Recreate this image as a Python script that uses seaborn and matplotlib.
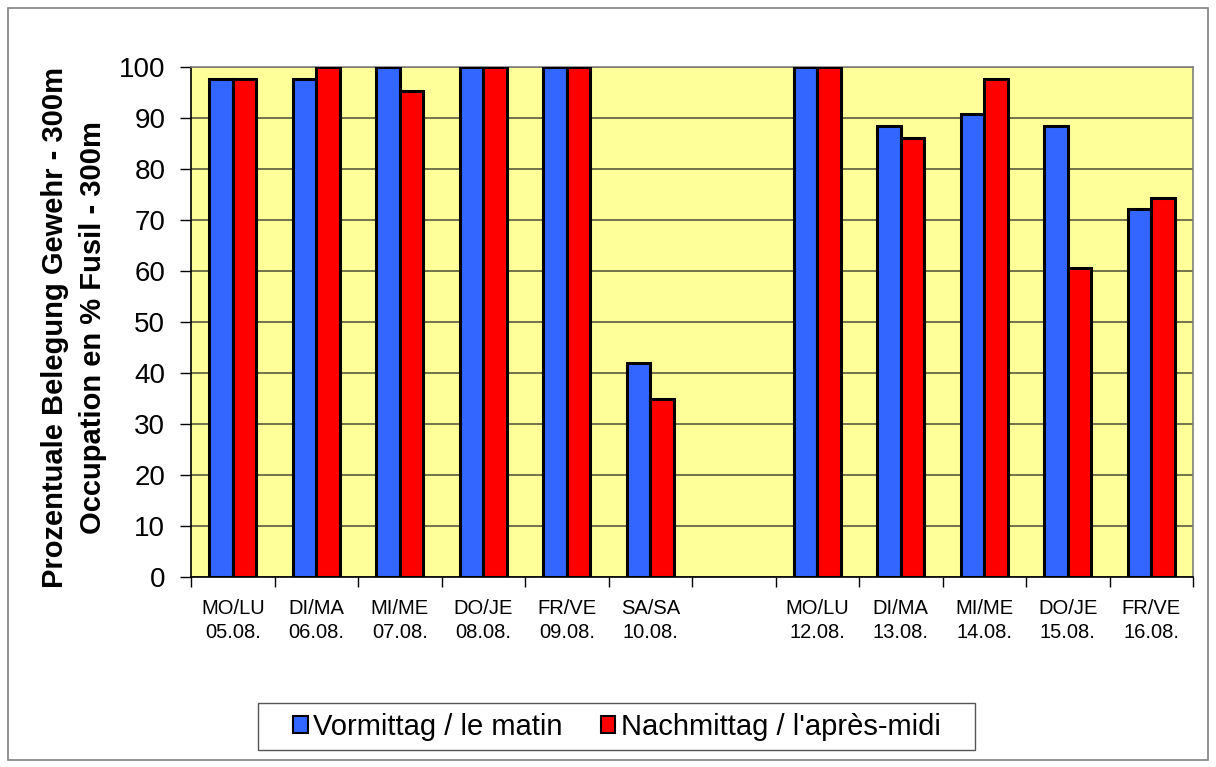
import pandas as pd
import numpy as np
import matplotlib
matplotlib.use('Agg')
import matplotlib.pyplot as plt
import matplotlib.patches as mpatches
import seaborn as sns

# chart data (values are shares of 43 slots)
days = ['MO/LU\n05.08.', 'DI/MA\n06.08.', 'MI/ME\n07.08.', 'DO/JE\n08.08.',
        'FR/VE\n09.08.', 'SA/SA\n10.08.', ' ',
        'MO/LU\n12.08.', 'DI/MA\n13.08.', 'MI/ME\n14.08.', 'DO/JE\n15.08.', 'FR/VE\n16.08.']
morning = [97.7, 97.7, 100, 100, 100, 41.9, np.nan, 100, 88.4, 90.7, 88.4, 72.1]
afternoon = [97.7, 100, 95.3, 100, 100, 34.9, np.nan, 100, 86.0, 97.7, 60.5, 74.4]
series = ['Vormittag / le matin', "Nachmittag / l'après-midi"]
colors = ['#3366FF', '#FF0000']

df = pd.DataFrame({
    'day': days * 2,
    'value': morning + afternoon,
    'series': [series[0]] * len(days) + [series[1]] * len(days),
})

sns.set_style('white')
plt.rcParams['font.family'] = ['Liberation Sans', 'DejaVu Sans']
plt.rcParams['text.color'] = 'black'
plt.rcParams['axes.labelcolor'] = 'black'
plt.rcParams['xtick.color'] = 'black'
plt.rcParams['ytick.color'] = 'black'

fig = plt.figure(figsize=(12.16, 7.67), dpi=100)
ax = fig.add_axes([191 / 1216, 1 - 577 / 767, (1193 - 191) / 1216, (577 - 67) / 767])
ax.set_facecolor('#FFFF99')

sns.barplot(data=df, x='day', y='value', hue='series', order=days, hue_order=series,
            palette=colors, width=0.56, edgecolor='black', linewidth=2.2,
            saturation=1, legend=False, ax=ax, zorder=3)

ax.set_ylim(0, 100)
ax.set_xlim(-0.5, len(days) - 0.5)
ax.set_yticks(range(0, 101, 10))
ax.yaxis.grid(True, color='#5a5a40', linewidth=1.2, zorder=0)
ax.set_axisbelow(True)
ax.tick_params(axis='y', labelsize=20, length=8, width=1, direction='out',
               left=True, pad=10.5)

# categories with ticks between them
ax.set_xticks(range(len(days)))
ax.set_xticklabels(days, fontsize=14.5, linespacing=1.3)
ax.set_xticks(np.arange(-0.5, len(days), 1), minor=True)
ax.tick_params(axis='x', which='major', length=0, pad=16)
ax.tick_params(axis='x', which='minor', length=7, width=1, direction='out', bottom=True)

for side in ['left', 'bottom']:
    ax.spines[side].set_color('black')
    ax.spines[side].set_linewidth(1.2)
for side in ['top', 'right']:
    ax.spines[side].set_color('#808080')
    ax.spines[side].set_linewidth(1.2)

ax.set_xlabel('')
ax.set_ylabel('Prozentuale Belegung Gewehr - 300m\nOccupation en % Fusil - 300m',
              fontsize=21, fontweight='bold', linespacing=1.45)
ax.yaxis.set_label_coords(-0.084, 0.49)

# legend without its own frame; box drawn separately to get the wide side padding
handles = [mpatches.Patch(facecolor=c, edgecolor='black', linewidth=1.5) for c in colors]
fig.legend(handles, series, loc='center', bbox_to_anchor=(617 / 1216, 1 - 727 / 767),
           ncol=2, fontsize=21, frameon=False,
           handlelength=0.5, handleheight=0.5, handletextpad=0.2, columnspacing=1.3,
           borderpad=0.3, borderaxespad=0)
fig.patches.append(mpatches.Rectangle((258 / 1216, 1 - 750 / 767), 717 / 1216, 47 / 767,
                                      transform=fig.transFigure, fill=False,
                                      edgecolor='#555555', linewidth=1.0))

# outer chart border
fig.patches.append(mpatches.Rectangle((8 / 1216, 1 - 760 / 767), 1200 / 1216, 752 / 767,
                                      transform=fig.transFigure, fill=False,
                                      edgecolor='#808080', linewidth=1.2))

fig.savefig('out.png', dpi=100)
